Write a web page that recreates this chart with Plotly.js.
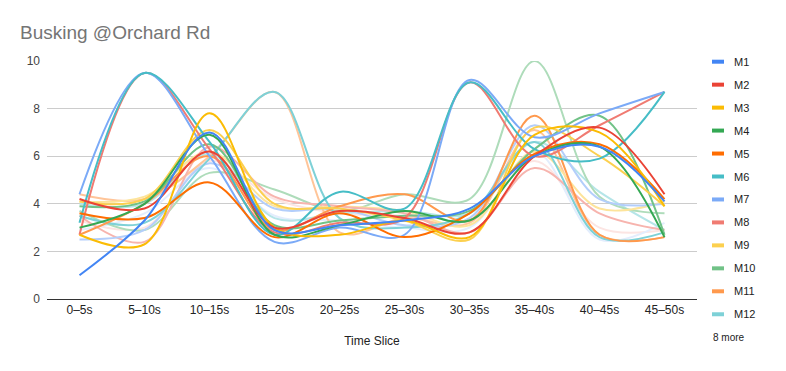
<!DOCTYPE html>
<html><head><meta charset="utf-8">
<script src="https://cdn.plot.ly/plotly-3.0.1.min.js"></script>
<style>html,body{margin:0;padding:0;background:#fff}#chart{width:786px;height:371px}</style>
</head><body><div id="chart"></div>
<script>
const categories = ['0–5s','5–10s','10–15s','15–20s','20–25s','25–30s','30–35s','35–40s','40–45s','45–50s'];
const seriesNames = ['M1','M2','M3','M4','M5','M6','M7','M8','M9','M10','M11','M12','M13','M14','M15','M16','M17','M18','M19','M20'];
const seriesColors = ['#4285F4','#EA4335','#FBBC04','#34A853','#FF6D01','#46BDC6','#7BAAF7','#F07B72','#FCD04F','#71C287','#FF994D','#7ED1D7','#B3CEFB','#F7B4AE','#FDE49B','#AEDCBA','#FFC599','#B5E5E8','#E3EDFD','#FCE5E3'];
const M1  = [1.0, 3.3, 7.0, 2.9, 3.1, 3.3, 3.8, 6.0, 6.4, 4.1];
const M2  = [4.2, 3.8, 6.2, 3.0, 3.7, 3.4, 2.8, 6.0, 7.2, 4.4];
const M3  = [2.7, 2.3, 7.8, 3.0, 2.7, 3.3, 2.6, 6.9, 7.0, 3.9];
const M4  = [3.0, 4.0, 6.9, 2.7, 3.1, 3.7, 3.3, 6.0, 6.4, 2.6];
const M5  = [3.6, 3.4, 4.9, 2.6, 3.6, 2.6, 3.6, 6.1, 6.5, 4.2];
const M6  = [3.2, 9.5, 6.6, 2.7, 4.5, 3.8, 9.1, 6.3, 5.9, 8.7];
const M7  = [4.4, 9.5, 6.0, 2.4, 3.0, 2.7, 9.2, 6.8, 7.8, 8.7];
const M8  = [2.7, 9.5, 6.3, 2.8, 3.2, 3.4, 9.1, 6.0, 7.3, 8.7];
const M9  = [4.1, 4.2, 7.1, 4.0, 3.8, 3.3, 2.5, 7.2, 6.0, 3.9];
const M10 = [3.9, 4.1, 6.5, 3.1, 3.3, 3.5, 3.7, 6.3, 7.7, 2.7];
const M11 = [2.7, 4.0, 6.0, 2.9, 3.9, 4.4, 3.3, 7.7, 2.7, 2.6];
const M12 = [3.5, 3.2, 5.9, 8.7, 3.4, 3.0, 3.6, 6.6, 2.6, 2.8];
const M13 = [2.5, 2.9, 5.7, 3.8, 3.8, 3.1, 3.4, 7.3, 4.2, 4.0];
const M14 = [3.5, 2.4, 6.4, 4.3, 3.9, 3.6, 2.8, 5.5, 3.6, 2.9];
const M15 = [4.1, 4.3, 6.2, 3.9, 3.9, 3.7, 3.1, 6.2, 3.8, 4.1];
const M16 = [3.7, 2.9, 5.3, 4.6, 3.7, 4.4, 4.2, 10.0, 4.3, 3.6];
const M17 = [4.4, 4.2, 6.0, 8.7, 2.8, 3.4, 3.2, 7.1, 2.7, 2.6];
const M18 = [4.0, 4.0, 6.1, 3.4, 3.6, 3.7, 3.6, 6.6, 4.5, 2.9];
const M19 = [2.9, 3.6, 5.5, 3.5, 3.3, 3.0, 3.0, 6.2, 2.5, 3.2];
const M20 = [3.3, 3.0, 5.8, 4.2, 3.6, 3.5, 3.2, 5.8, 3.0, 2.9];
const seriesValues = [M1,M2,M3,M4,M5,M6,M7,M8,M9,M10,M11,M12,M13,M14,M15,M16,M17,M18,M19,M20];
const yTicks = [0,2,4,6,8,10];
const legendShown = 12;

const W = 786, H = 371;
const L = 47, R = 89, T = 61, B = 72;
const pw = W - L - R, ph = H - T - B;
const px = x => (x - L) / pw;
const py = y => (H - B - y) / ph;

const FONT = 'Arial, "Liberation Sans", sans-serif';

const traces = [];
for (let i = seriesValues.length - 1; i >= 0; i--) {
  traces.push({
    type: 'scatter', mode: 'lines', name: seriesNames[i],
    x: categories, y: seriesValues[i],
    line: {color: seriesColors[i], width: 2, shape: 'spline', smoothing: 1},
    hoverinfo: 'skip', showlegend: false
  });
}

const shapes = [], annotations = [];
for (let i = 0; i < legendShown; i++) {
  const yc = 61.7 + 22.96 * i;
  shapes.push({type: 'rect', xref: 'paper', yref: 'paper',
    x0: px(712), x1: px(724), y0: py(yc + 2), y1: py(yc - 2),
    fillcolor: seriesColors[i], line: {width: 0}});
  annotations.push({xref: 'paper', yref: 'paper', x: px(732), y: py(yc),
    xanchor: 'left', yanchor: 'middle', showarrow: false,
    text: seriesNames[i], font: {family: FONT, size: 11, color: '#222222'}});
}
annotations.push({xref: 'paper', yref: 'paper', x: px(711), y: py(337.5),
  xanchor: 'left', yanchor: 'middle', showarrow: false,
  text: (seriesNames.length - legendShown) + ' more',
  font: {family: FONT, size: 10, color: '#222222'}});

const layout = {
  width: W, height: H,
  margin: {l: L, r: R, t: T, b: B, pad: 0},
  paper_bgcolor: '#ffffff', plot_bgcolor: '#ffffff',
  font: {family: FONT, color: '#444444'},
  title: {text: 'Busking @Orchard Rd', x: 20 / W, xref: 'container', xanchor: 'left',
    y: 1 - 32 / H, yref: 'container', yanchor: 'middle',
    font: {family: FONT, size: 19, color: '#757575'}},
  showlegend: false,
  xaxis: {
    type: 'category', range: [-0.5, 9.5], showgrid: false, zeroline: false,
    showline: true, linecolor: '#333333', linewidth: 1,
    ticks: '', tickfont: {family: FONT, size: 12, color: '#222222'},
    title: {text: 'Time Slice', font: {family: FONT, size: 12, color: '#222222'}, standoff: 20},
    fixedrange: true
  },
  yaxis: {
    range: [0, 10], tickvals: yTicks, ticktext: yTicks.map(String),
    showgrid: true, gridcolor: '#cccccc', gridwidth: 1, zeroline: false, showline: false,
    ticks: '', tickfont: {family: FONT, size: 12, color: '#444444'},
    ticklabelstandoff: 6, fixedrange: true
  },
  shapes: shapes, annotations: annotations
};

Plotly.newPlot('chart', traces, layout, {displayModeBar: false, staticPlot: true});
</script>
</body></html>
